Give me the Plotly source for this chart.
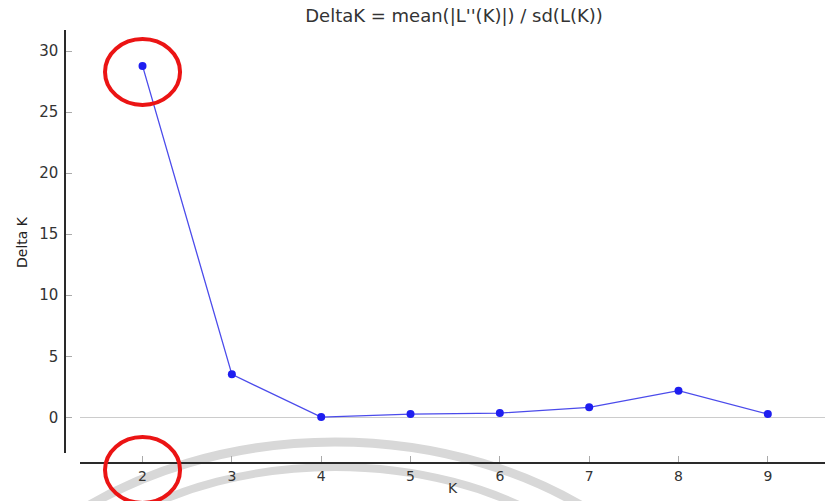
import plotly.graph_objects as go

# Evanno delta-K results per number of clusters K
k_values = [2, 3, 4, 5, 6, 7, 8, 9]
delta_k = [28.78, 3.52, 0.02, 0.27, 0.35, 0.82, 2.18, 0.27]

y_ticks = [0, 5, 10, 15, 20, 25, 30]

W, H = 825, 501
ML, MR, MT, MB = 65, 0, 30, 38
PW, PH = W - ML - MR, H - MT - MB


def px_x(px):
    return (px - ML) / PW


def px_y(py):
    return (H - MB - py) / PH


fig = go.Figure()
fig.add_trace(go.Scatter(
    x=k_values, y=delta_k, mode="lines+markers",
    line=dict(color="rgb(75,75,235)", width=1.3),
    marker=dict(color="rgb(30,30,240)", size=8),
    showlegend=False,
))

shapes = [
    # faint grey watermark arcs near the bottom
    dict(type="circle", xref="paper", yref="paper", layer="below",
         x0=px_x(-65), x1=px_x(735), y0=px_y(1042), y1=px_y(442),
         line=dict(color="rgb(216,216,216)", width=9)),
    dict(type="circle", xref="paper", yref="paper", layer="below",
         x0=px_x(15), x1=px_x(655), y0=px_y(887), y1=px_y(467),
         line=dict(color="rgb(216,216,216)", width=8)),
    # red highlight rings around the best K
    dict(type="circle", xref="x", yref="paper", layer="above",
         x0=2 - 0.42, x1=2 + 0.42, y0=px_y(105), y1=px_y(39),
         line=dict(color="rgb(235,20,20)", width=4)),
    dict(type="circle", xref="x", yref="paper", layer="above",
         x0=2 - 0.42, x1=2 + 0.42, y0=px_y(503), y1=px_y(437),
         line=dict(color="rgb(235,20,20)", width=4)),
]

fig.update_layout(
    width=W, height=H,
    margin=dict(l=ML, r=MR, t=MT, b=MB, pad=0),
    paper_bgcolor="white", plot_bgcolor="white",
    font=dict(family="DejaVu Sans", color="#333333"),
    title=dict(text="DeltaK = mean(|L''(K)|) / sd(L(K))",
               xref="container", yref="container",
               x=454 / W, xanchor="center", y=1 - 16 / H, yanchor="middle",
               font=dict(size=18, color="#333333")),
    xaxis=dict(
        domain=[px_x(80), 1], anchor="free", position=0,
        range=[1.3, 9.64], tickvals=k_values,
        showline=True, linecolor="#2a2a2a", linewidth=1.5,
        ticks="inside", ticklen=6, tickcolor="#aaaaaa", tickwidth=1,
        showgrid=False, zeroline=False,
        tickfont=dict(size=14, color="#333333"),
    ),
    yaxis=dict(
        domain=[px_y(453), 1], anchor="free", position=0,
        range=[-2.92, 31.72], tickvals=y_ticks,
        showline=True, linecolor="#2a2a2a", linewidth=1.5,
        ticks="inside", ticklen=6, tickcolor="#aaaaaa", tickwidth=1,
        ticklabelstandoff=3,
        showgrid=False, zeroline=True, zerolinecolor="#cccccc", zerolinewidth=1,
        tickfont=dict(size=15, color="#333333"),
    ),
    shapes=shapes,
    annotations=[
        dict(text="Delta K", xref="paper", yref="paper", x=px_x(22), y=px_y(242),
             textangle=-90, showarrow=False, xanchor="center", yanchor="middle",
             font=dict(size=14, color="#222222")),
        dict(text="K", xref="paper", yref="paper", x=px_x(453), y=px_y(488),
             showarrow=False, xanchor="center", yanchor="middle",
             font=dict(size=14, color="#333333")),
    ],
)

fig.write_html("out.html")
